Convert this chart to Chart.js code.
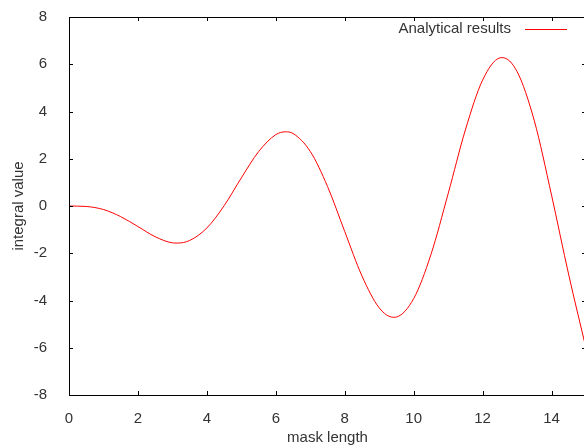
<!DOCTYPE html>
<html>
<head>
<meta charset="utf-8">
<script src="https://cdn.jsdelivr.net/npm/chart.js@4"></script>
<style>
  html, body { margin: 0; padding: 0; background: #fff; overflow: hidden; }
  #wrap { width: 584px; height: 448px; overflow: hidden; }
  #grafico { display: block; }
</style>
</head>
<body>
<div id="wrap"><canvas id="grafico" width="586" height="448"></canvas></div>
<script>
// valores
const comprimento = [0, 0.5, 1, 1.5, 2, 2.5, 3, 3.14, 3.5, 4, 4.5, 5, 5.5, 6, 6.28, 6.5, 7, 7.5, 8, 8.5, 9, 9.42, 9.5, 10, 10.5, 11, 11.5, 12, 12.5, 12.57, 13, 13.5, 14, 14.5, 15];
const valorIntegral = [0, -0.02, -0.15, -0.45, -0.87, -1.30, -1.56, -1.57, -1.46, -0.93, 0.01, 1.19, 2.30, 3.02, 3.14, 3.07, 2.31, 0.83, -1.08, -2.96, -4.31, -4.71, -4.70, -3.92, -2.06, 0.52, 3.22, 5.33, 6.27, 6.28, 5.69, 3.61, 0.46, -2.92, -6.02];
const ticksX = [0, 2, 4, 6, 8, 10, 12, 14];
const ticksY = [-8, -6, -4, -2, 0, 2, 4, 6, 8];

const FONTE = "'Liberation Sans', Arial, sans-serif";
const TAM_FONTE = 15;
const COR_TEXTO = '#333333';
const COR_LINHA = '#ff0000';

// zera o padding automatico das escalas para o chartArea ficar fixo
function semPadding(escala) {
    escala.paddingTop = 0;
    escala.paddingBottom = 0;
    escala.paddingLeft = 0;
    escala.paddingRight = 0;
}

// moldura com ticks para dentro e legenda no estilo gnuplot
const moldura = {
    id: 'moldura',
    afterDatasetsDraw(chart) {
        const { ctx, chartArea: a, scales } = chart;
        ctx.save();
        ctx.strokeStyle = '#000';
        ctx.lineWidth = 1;
        ctx.beginPath();
        ctx.rect(Math.round(a.left) + 0.5, Math.round(a.top) + 0.5, Math.round(a.right - a.left), Math.round(a.bottom - a.top));
        ctx.stroke();
        const tam = 4;
        ctx.beginPath();
        ticksX.forEach(v => {
            const x = Math.round(scales.x.getPixelForValue(v)) + 0.5;
            ctx.moveTo(x, a.bottom); ctx.lineTo(x, a.bottom - tam);
            ctx.moveTo(x, a.top); ctx.lineTo(x, a.top + tam);
        });
        ticksY.forEach(v => {
            const y = Math.round(scales.y.getPixelForValue(v)) + 0.5;
            ctx.moveTo(a.left, y); ctx.lineTo(a.left + tam, y);
            ctx.moveTo(a.right, y); ctx.lineTo(a.right - tam, y);
        });
        ctx.stroke();

        // legenda
        ctx.font = TAM_FONTE + 'px ' + FONTE;
        ctx.fillStyle = COR_TEXTO;
        ctx.textAlign = 'right';
        ctx.textBaseline = 'middle';
        ctx.fillText(chart.data.datasets[0].label, 511, 29);
        ctx.strokeStyle = COR_LINHA;
        ctx.beginPath();
        ctx.moveTo(525, 29.5);
        ctx.lineTo(567, 29.5);
        ctx.stroke();
        ctx.restore();
    }
};

const ctx = document.getElementById('grafico').getContext('2d');
const grafico = new Chart(ctx, {
    type: 'line',
    data: {
        datasets: [{
            label: 'Analytical results',
            data: comprimento.map((x, i) => ({ x: x, y: valorIntegral[i] })),
            borderColor: COR_LINHA,
            borderWidth: 1,
            pointRadius: 0,
            fill: false,
            cubicInterpolationMode: 'monotone'
        }]
    },
    options: {
        responsive: false,
        animation: false,
        events: [],
        layout: { padding: { top: 17, right: 0, left: 0, bottom: 0 } },
        plugins: {
            legend: { display: false },
            tooltip: { enabled: false }
        },
        scales: {
            x: {
                type: 'linear',
                min: 0,
                max: 15,
                grid: { display: false },
                border: { display: false },
                afterBuildTicks(escala) { escala.ticks = ticksX.map(v => ({ value: v })); },
                ticks: {
                    padding: 7,
                    color: COR_TEXTO,
                    font: { family: FONTE, size: TAM_FONTE },
                    maxRotation: 0
                },
                title: {
                    display: true,
                    text: 'mask length',
                    color: COR_TEXTO,
                    font: { family: FONTE, size: TAM_FONTE },
                    padding: { top: 0, bottom: 1 }
                },
                afterFit(escala) { escala.height = 53; semPadding(escala); }
            },
            y: {
                type: 'linear',
                min: -8,
                max: 8,
                grid: { display: false },
                border: { display: false },
                afterBuildTicks(escala) { escala.ticks = ticksY.map(v => ({ value: v })); },
                ticks: {
                    padding: 14,
                    color: COR_TEXTO,
                    font: { family: FONTE, size: TAM_FONTE }
                },
                title: {
                    display: true,
                    text: 'integral value',
                    color: COR_TEXTO,
                    font: { family: FONTE, size: TAM_FONTE },
                    padding: { top: 10, bottom: 0 }
                },
                afterFit(escala) { escala.width = 69; semPadding(escala); }
            }
        }
    },
    plugins: [moldura]
});
</script>
</body>
</html>
